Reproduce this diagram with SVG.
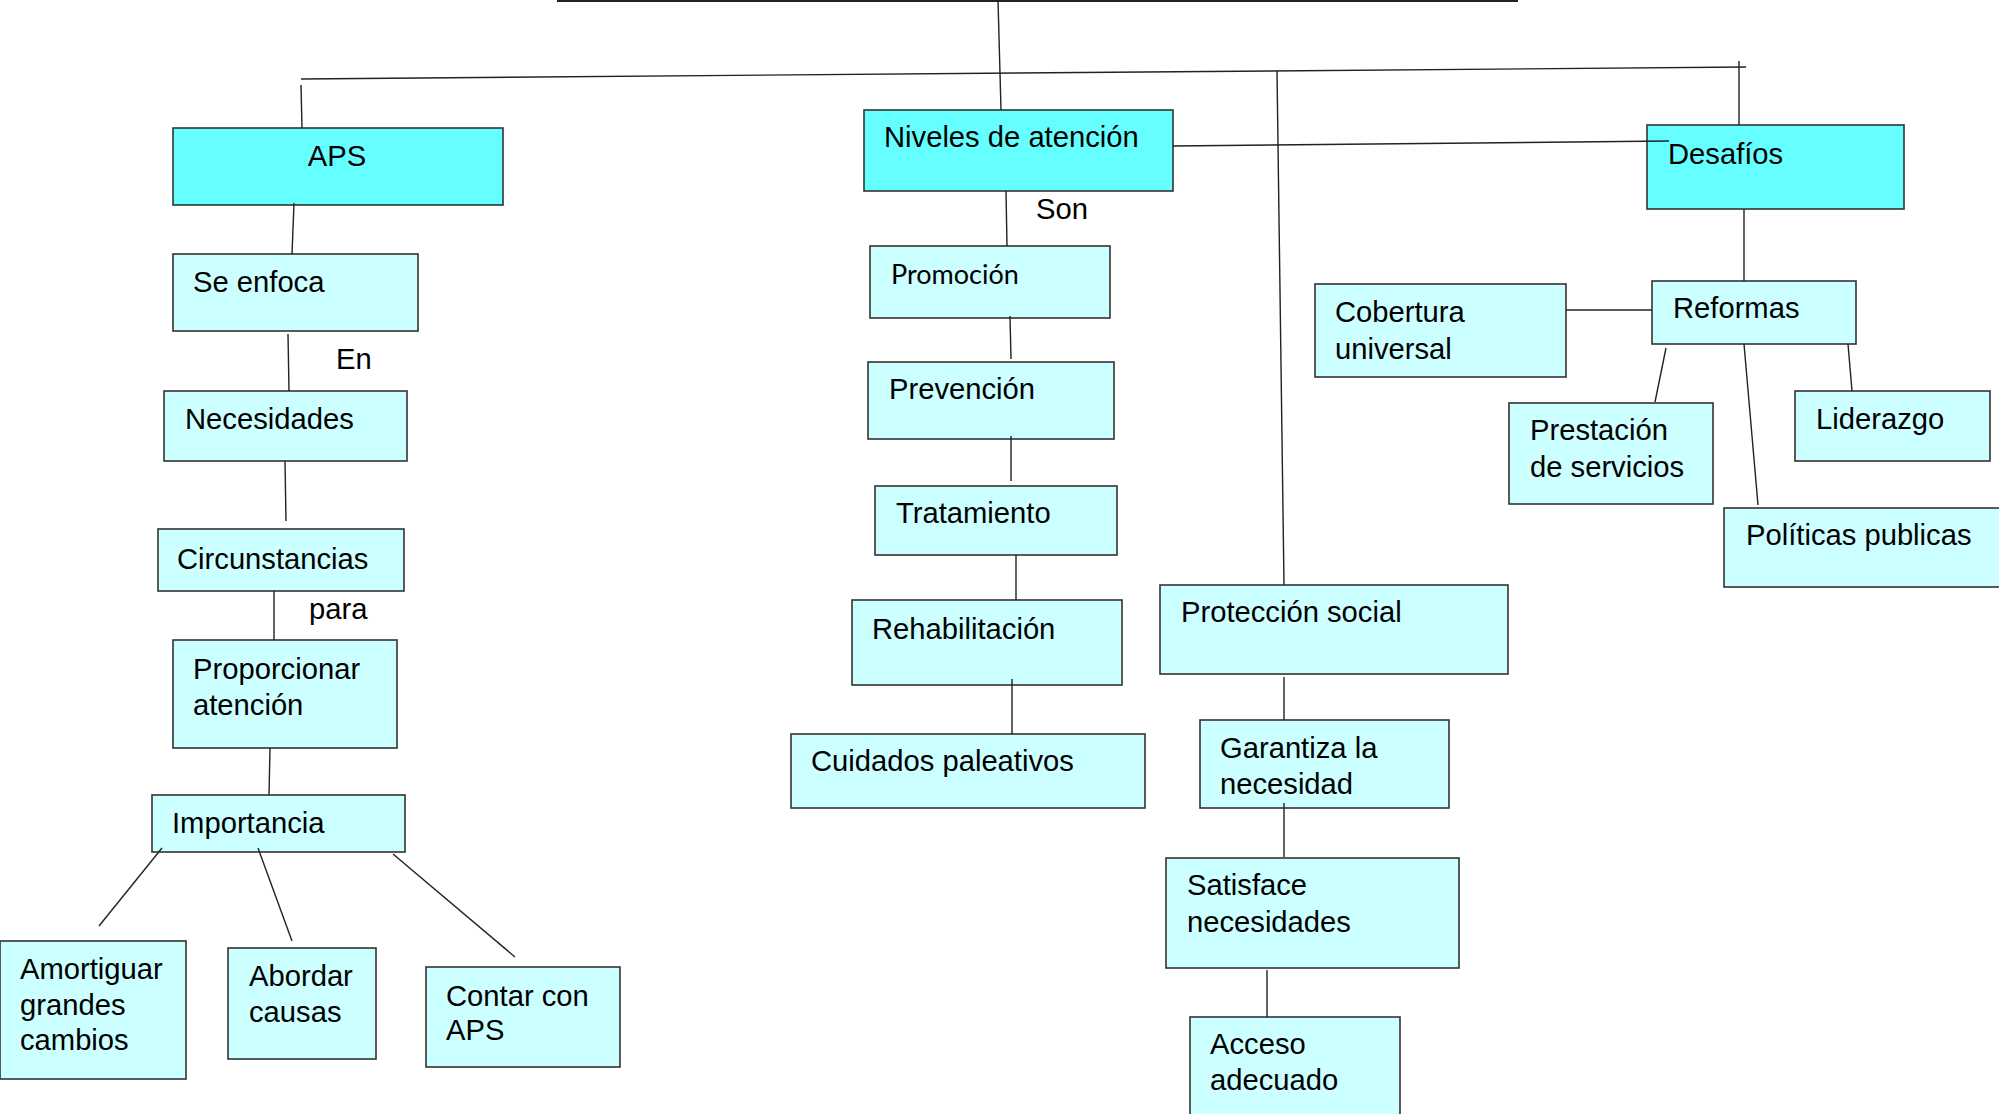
<svg xmlns="http://www.w3.org/2000/svg" width="1999" height="1114" viewBox="0 0 1999 1114">
<style>
.main{fill:#66FFFF;stroke:#333;stroke-width:1.6}
.sub{fill:#CCFFFF;stroke:#333;stroke-width:1.6}
text{font-family:"Liberation Sans",Arial,sans-serif;font-size:29.2px;fill:#000}
.lato{font-family:Lato,"Liberation Sans",sans-serif;font-size:27px}
#connectors line{stroke:#222;stroke-width:1.4}
</style>
<rect x="0" y="0" width="1999" height="1114" fill="#fff"/>
<g id="labels">
<text x="336" y="369">En</text>
<text x="309" y="619">para</text>
<text x="1036" y="219">Son</text>
</g>
<g id="aps"><rect class="main" x="173" y="128" width="330" height="77"/><text x="337" y="166" text-anchor="middle">APS</text></g>
<g id="niveles"><rect class="main" x="864" y="110" width="309" height="81"/><text x="884" y="147">Niveles de atención</text></g>
<g id="desafios"><rect class="main" x="1647" y="125" width="257" height="84"/><text x="1668" y="164">Desafíos</text></g>
<g id="se-enfoca"><rect class="sub" x="173" y="254" width="245" height="77"/><text x="193" y="292">Se enfoca</text></g>
<g id="necesidades"><rect class="sub" x="164" y="391" width="243" height="70"/><text x="185" y="429">Necesidades</text></g>
<g id="circunstancias"><rect class="sub" x="158" y="529" width="246" height="62"/><text x="177" y="569">Circunstancias</text></g>
<g id="proporcionar"><rect class="sub" x="173" y="640" width="224" height="108"/><text x="193" y="679">Proporcionar<tspan x="193" y="715">atención</tspan></text></g>
<g id="importancia"><rect class="sub" x="152" y="795" width="253" height="57"/><text x="172" y="833">Importancia</text></g>
<g id="amortiguar"><rect class="sub" x="0" y="941" width="186" height="138"/><text x="20" y="979">Amortiguar<tspan x="20" y="1015">grandes</tspan><tspan x="20" y="1050">cambios</tspan></text></g>
<g id="abordar"><rect class="sub" x="228" y="948" width="148" height="111"/><text x="249" y="986">Abordar<tspan x="249" y="1022">causas</tspan></text></g>
<g id="contar"><rect class="sub" x="426" y="967" width="194" height="100"/><text x="446" y="1006">Contar con<tspan x="446" y="1040">APS</tspan></text></g>
<g id="promocion"><rect class="sub" x="870" y="246" width="240" height="72"/><text class="lato" x="891" y="284">Promoción</text></g>
<g id="prevencion"><rect class="sub" x="868" y="362" width="246" height="77"/><text x="889" y="399">Prevención</text></g>
<g id="tratamiento"><rect class="sub" x="875" y="486" width="242" height="69"/><text x="896" y="523">Tratamiento</text></g>
<g id="rehabilitacion"><rect class="sub" x="852" y="600" width="270" height="85"/><text x="872" y="639">Rehabilitación</text></g>
<g id="cuidados"><rect class="sub" x="791" y="734" width="354" height="74"/><text x="811" y="771">Cuidados paleativos</text></g>
<g id="proteccion"><rect class="sub" x="1160" y="585" width="348" height="89"/><text x="1181" y="622">Protección social</text></g>
<g id="garantiza"><rect class="sub" x="1200" y="720" width="249" height="88"/><text x="1220" y="758">Garantiza la<tspan x="1220" y="794">necesidad</tspan></text></g>
<g id="satisface"><rect class="sub" x="1166" y="858" width="293" height="110"/><text x="1187" y="895">Satisface<tspan x="1187" y="932">necesidades</tspan></text></g>
<g id="acceso"><rect class="sub" x="1190" y="1017" width="210" height="110"/><text x="1210" y="1054">Acceso<tspan x="1210" y="1090">adecuado</tspan></text></g>
<g id="cobertura"><rect class="sub" x="1315" y="284" width="251" height="93"/><text x="1335" y="322">Cobertura<tspan x="1335" y="359">universal</tspan></text></g>
<g id="reformas"><rect class="sub" x="1652" y="281" width="204" height="63"/><text x="1673" y="318">Reformas</text></g>
<g id="prestacion"><rect class="sub" x="1509" y="403" width="204" height="101"/><text x="1530" y="440">Prestación<tspan x="1530" y="477">de servicios</tspan></text></g>
<g id="liderazgo"><rect class="sub" x="1795" y="391" width="195" height="70"/><text x="1816" y="429">Liderazgo</text></g>
<g id="politicas"><rect class="sub" x="1724" y="508" width="285" height="79"/><text x="1746" y="545">Políticas publicas</text></g>
<g id="connectors">
<line x1="557" y1="1" x2="1518" y2="1" style="stroke-width:2"/>
<line x1="998" y1="0" x2="1001" y2="110"/>
<line x1="301" y1="79" x2="1746" y2="67"/>
<line x1="301" y1="85" x2="302" y2="128"/>
<line x1="1739" y1="61" x2="1739" y2="125"/>
<line x1="1173" y1="146" x2="1669" y2="141"/>
<line x1="1277" y1="71" x2="1284" y2="585"/>
<line x1="294" y1="203" x2="292" y2="254"/>
<line x1="288" y1="334" x2="289" y2="391"/>
<line x1="285" y1="461" x2="286" y2="521"/>
<line x1="274" y1="591" x2="274" y2="640"/>
<line x1="270" y1="748" x2="269" y2="795"/>
<line x1="162" y1="848" x2="99" y2="926"/>
<line x1="258" y1="848" x2="292" y2="941"/>
<line x1="393" y1="854" x2="515" y2="957"/>
<line x1="1006" y1="191" x2="1007" y2="246"/>
<line x1="1010" y1="316" x2="1011" y2="359"/>
<line x1="1011" y1="436" x2="1011" y2="481"/>
<line x1="1016" y1="555" x2="1016" y2="600"/>
<line x1="1012" y1="679" x2="1012" y2="734"/>
<line x1="1284" y1="677" x2="1284" y2="720"/>
<line x1="1284" y1="803" x2="1284" y2="857"/>
<line x1="1267" y1="970" x2="1267" y2="1017"/>
<line x1="1744" y1="209" x2="1744" y2="281"/>
<line x1="1566" y1="310" x2="1652" y2="310"/>
<line x1="1666" y1="348" x2="1655" y2="402"/>
<line x1="1744" y1="344" x2="1758" y2="505"/>
<line x1="1848" y1="344" x2="1852" y2="391"/>
</g>
</svg>
